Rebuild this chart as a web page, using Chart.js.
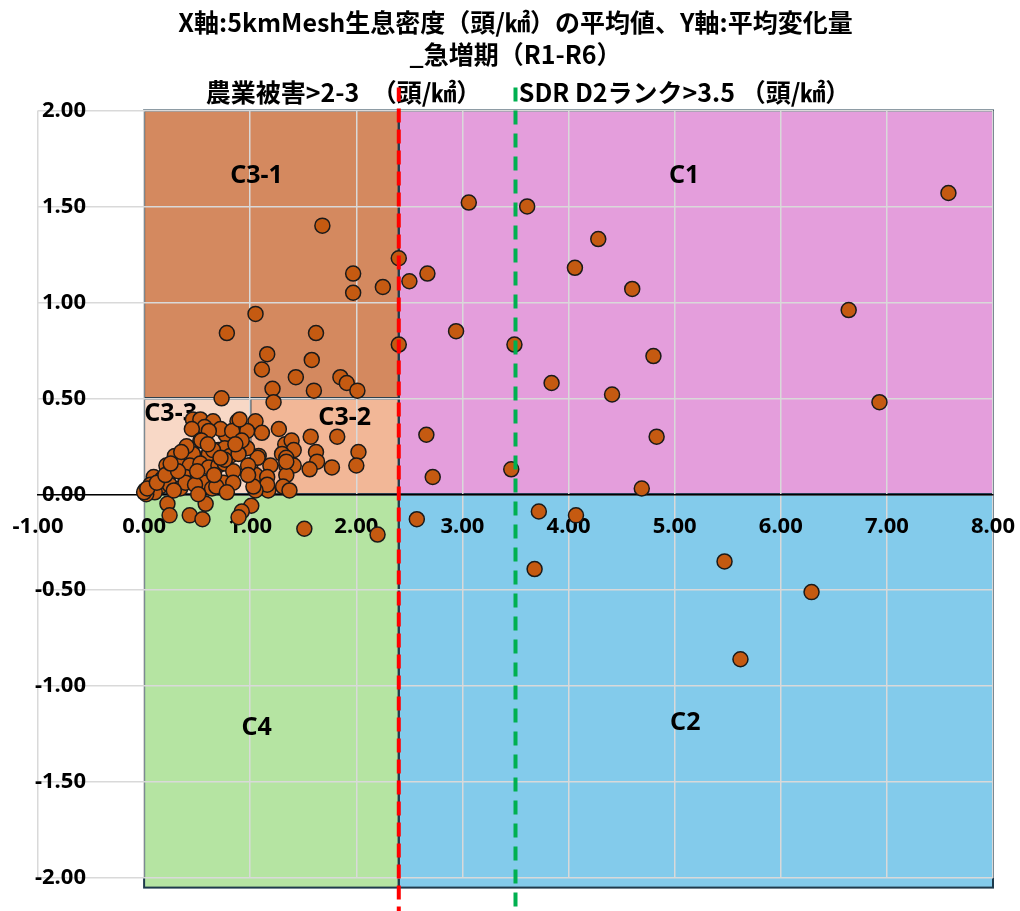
<!DOCTYPE html>
<html lang="ja">
<head>
<meta charset="utf-8">
<title>急増期 (R1-R6)</title>
<script src="https://cdn.jsdelivr.net/npm/chart.js@4.4.1/dist/chart.umd.min.js"></script>
<style>
  body { margin: 0; background: #fff; }
  #wrap { width: 1020px; height: 911px; }
</style>
</head>
<body>
<div id="wrap"><canvas id="densityChart" width="1020" height="911"></canvas></div>
<script>
// X: 5km mesh density average (頭/㎢), Y: average change
const densityX = [
  3.06, 3.61, 4.28, 4.06, 4.60, 2.50, 2.67, 2.40, 2.94, 2.40, 3.49, 3.84, 4.80, 4.41, 2.66, 2.72, 3.46, 4.83, 4.69, 7.58, 6.64, 6.93,
  2.57, 3.72, 4.07, 3.68, 5.47, 6.29, 5.62,
  1.68, 1.97, 2.25, 1.97, 1.05, 0.78, 1.62, 1.16, 1.11, 1.58, 1.43, 1.21, 1.60, 1.85, 1.91, 2.01, 0.73, 1.22,
  1.05, 1.11, 1.27, 1.33, 1.39, 1.41, 1.30, 1.57, 1.82, 1.62, 1.63, 1.56, 1.77, 2.02, 2.00, 1.08, 1.00, 1.19, 1.34, 1.34, 1.41,
  1.05, 1.16, 1.34, 1.31, 1.37, 1.17, 1.16, 1.05, 1.03, 1.07, 1.34,
  1.01, 0.92, 0.89, 1.51, 2.20, 0.22, 0.24, 0.43, 0.55, 0.58,
  0.46, 0.53, 0.65, 0.57, 0.45, 0.77, 0.88, 0.97, 0.72, 0.83, 0.53, 0.42, 0.29, 0.37, 0.46, 0.61, 0.70, 0.76, 0.81, 0.97, 0.89,
  0.21, 0.34, 0.43, 0.53, 0.61, 0.70, 0.76, 0.84, 0.98, 0.98, 0.09, 0.17, 0.28, 0.39, 0.50, 0.57, 0.75, 0.84,
  0.06, 0.15, 0.24, 0.34, 0.39, 0.48, 0.64, 0.68, 0.01, 0.04, 0.10, 0.28, 0.51, 0.78,
  0.40, 0.65, 0.76, 0.61, 0.54, 0.90, 0.02, 0.00, 0.03, 0.12, 0.20, 0.32, 0.25, 0.35, 0.50, 0.66, 0.72, 0.92, 0.86, 0.60
];
const changeY = [
  1.52, 1.50, 1.33, 1.18, 1.07, 1.11, 1.15, 1.23, 0.85, 0.78, 0.78, 0.58, 0.72, 0.52, 0.31, 0.09, 0.13, 0.30, 0.03, 1.57, 0.96, 0.48,
  -0.13, -0.09, -0.11, -0.39, -0.35, -0.51, -0.86,
  1.40, 1.15, 1.08, 1.05, 0.94, 0.84, 0.84, 0.73, 0.65, 0.70, 0.61, 0.55, 0.54, 0.61, 0.58, 0.54, 0.50, 0.48,
  0.38, 0.32, 0.34, 0.26, 0.28, 0.23, 0.21, 0.30, 0.30, 0.22, 0.17, 0.13, 0.14, 0.22, 0.15, 0.20, 0.15, 0.15, 0.19, 0.15, 0.15,
  0.10, 0.09, 0.10, 0.04, 0.02, 0.02, 0.05, 0.02, 0.04, 0.19, 0.17,
  -0.06, -0.09, -0.12, -0.18, -0.21, -0.05, -0.11, -0.11, -0.13, -0.05,
  0.39, 0.39, 0.38, 0.35, 0.34, 0.31, 0.38, 0.33, 0.34, 0.33, 0.28, 0.24, 0.20, 0.19, 0.21, 0.21, 0.23, 0.24, 0.20, 0.24, 0.21,
  0.15, 0.15, 0.15, 0.16, 0.14, 0.15, 0.16, 0.12, 0.15, 0.10, 0.09, 0.08, 0.12, 0.09, 0.08, 0.06, 0.06, 0.06,
  0.05, 0.04, 0.05, 0.03, 0.06, 0.05, 0.03, 0.04, 0.02, 0.01, 0.01, 0.02, 0.00, 0.01,
  0.25, 0.23, 0.18, 0.33, 0.28, 0.39, 0.00, 0.01, 0.03, 0.06, 0.10, 0.12, 0.16, 0.22, 0.12, 0.10, 0.19, 0.28, 0.26, 0.26
];

// thresholds
const damageLimit = 2.4;   // 農業被害>2-3
const sdrLimit = 3.5;      // SDR D2ランク>3.5
const guideSpan = [2.12, -2.3];

// classification areas
const regionNames = ['C3-1', 'C3-3', 'C3-2', 'C1', 'C4', 'C2'];
const regionX = [[0, 2.4], [0, 1], [1, 2.4], [2.4, 8], [0, 2.4], [2.4, 8]];
const regionY = [[0.5, 2], [0, 0.5], [0, 0.5], [0, 2], [-2.05, 0], [-2.05, 0]];

const xTicks = [-1, 0, 1, 2, 3, 4, 5, 6, 7, 8];
const yTicks = [-2, -1.5, -1, -0.5, 0, 0.5, 1, 1.5, 2];

// styling for the areas (kept apart from the data)
const regionColors = {
  'C3-1': '#D4895F', 'C3-3': '#F8D8C6', 'C3-2': '#F2B797',
  'C1': '#E49EDC', 'C4': '#B5E4A2', 'C2': '#83CBEB'
};
const regionLabelAt = {
  'C3-1': [1.06, 1.66], 'C3-3': [0.25, 0.42], 'C3-2': [1.89, 0.40],
  'C1': [5.09, 1.66], 'C4': [1.06, -1.22], 'C2': [5.10, -1.19]
};

const regionPlugin = {
  id: 'regions',
  beforeDraw(chart) {
    const { ctx, scales: { x, y } } = chart;
    ctx.save();
    regionNames.forEach((name, i) => {
      const left = x.getPixelForValue(regionX[i][0]);
      const right = x.getPixelForValue(regionX[i][1]);
      const top = y.getPixelForValue(regionY[i][1]);
      const bottom = y.getPixelForValue(regionY[i][0]);
      ctx.fillStyle = regionColors[name];
      ctx.fillRect(left, top, right - left, bottom - top);
    });
    ctx.strokeStyle = '#1E3A4C';
    ctx.lineWidth = 2;
    regionNames.forEach((name, i) => {
      const left = x.getPixelForValue(regionX[i][0]);
      const right = x.getPixelForValue(regionX[i][1]);
      const top = y.getPixelForValue(regionY[i][1]);
      const bottom = y.getPixelForValue(regionY[i][0]);
      ctx.strokeRect(left, top, right - left, bottom - top);
    });
    ctx.restore();
  },
  beforeDatasetsDraw(chart) {
    const { ctx, scales: { x, y } } = chart;
    ctx.save();
    ctx.font = 'bold 25px "Noto Sans"';
    ctx.fillStyle = '#000';
    ctx.textAlign = 'center';
    ctx.textBaseline = 'middle';
    regionNames.forEach(name => {
      const [vx, vy] = regionLabelAt[name];
      ctx.fillText(name, x.getPixelForValue(vx), y.getPixelForValue(vy));
    });
    ctx.restore();
  }
};

const points = densityX.map((v, i) => ({ x: v, y: changeY[i] }));

const tickFont = { family: '"Noto Sans"', size: 22, weight: 'bold' };

new Chart(document.getElementById('densityChart'), {
  type: 'scatter',
  data: {
    datasets: [
      {
        label: '農業被害',
        data: [{ x: damageLimit, y: guideSpan[0] }, { x: damageLimit, y: guideSpan[1] }],
        showLine: true,
        borderColor: '#FF0000',
        borderWidth: 4,
        borderDash: [14, 7],
        pointRadius: 0,
        clip: false,
        order: 0
      },
      {
        label: 'SDR',
        data: [{ x: sdrLimit, y: guideSpan[0] }, { x: sdrLimit, y: guideSpan[1] }],
        showLine: true,
        borderColor: '#00B050',
        borderWidth: 4,
        borderDash: [14, 9],
        pointRadius: 0,
        clip: false,
        order: 0
      },
      {
        label: 'Mesh',
        data: points,
        backgroundColor: '#C55A11',
        borderColor: '#1a1a1a',
        borderWidth: 1.5,
        pointRadius: 7.5,
        order: 2
      }
    ]
  },
  options: {
    responsive: false,
    animation: false,
    layout: { padding: { left: 38, right: 27, top: 0, bottom: 33 } },
    plugins: {
      legend: { display: false },
      tooltip: { enabled: false },
      title: {
        display: true,
        text: ['X軸:5kmMesh生息密度（頭/㎢）の平均値、Y軸:平均変化量', '_急増期（R1-R6）'],
        color: '#000',
        font: { family: '"Noto Sans CJK JP"', size: 25, weight: 'bold', lineHeight: 1.3 },
        padding: { top: 6, bottom: 0 }
      },
      subtitle: {
        display: true,
        text: '　農業被害>2-3　（頭/㎢）　　SDR D2ランク>3.5 （頭/㎢）',
        color: '#000',
        font: { family: '"Noto Sans CJK JP"', size: 25, weight: 'bold', lineHeight: 1.1 },
        padding: { top: 8, bottom: 4 }
      }
    },
    scales: {
      x: {
        type: 'linear',
        position: { y: 0 },
        min: -1,
        max: 8,
        afterBuildTicks: s => { s.ticks = xTicks.map(v => ({ value: v })); },
        afterFit: s => { s.paddingLeft = 0; s.paddingRight = 0; },
        grid: { color: '#D9D9D9', lineWidth: 1.5, drawTicks: false },
        border: { display: true, color: '#000', width: 1.5 },
        ticks: {
          color: '#000',
          font: tickFont,
          padding: 19,
          maxRotation: 0,
          callback: v => v.toFixed(2)
        }
      },
      y: {
        type: 'linear',
        position: 'left',
        min: -2,
        max: 2,
        afterBuildTicks: s => { s.ticks = yTicks.map(v => ({ value: v })); },
        afterFit: s => { s.width = 0; s.paddingTop = 0; s.paddingBottom = 0; },
        grid: { color: '#D9D9D9', lineWidth: 1.5, drawTicks: false },
        border: { display: false },
        ticks: {
          color: '#000',
          font: tickFont,
          mirror: true,
          crossAlign: 'far',
          padding: -3,
          callback: v => v.toFixed(2)
        }
      }
    }
  },
  plugins: [regionPlugin]
});
</script>
</body>
</html>
